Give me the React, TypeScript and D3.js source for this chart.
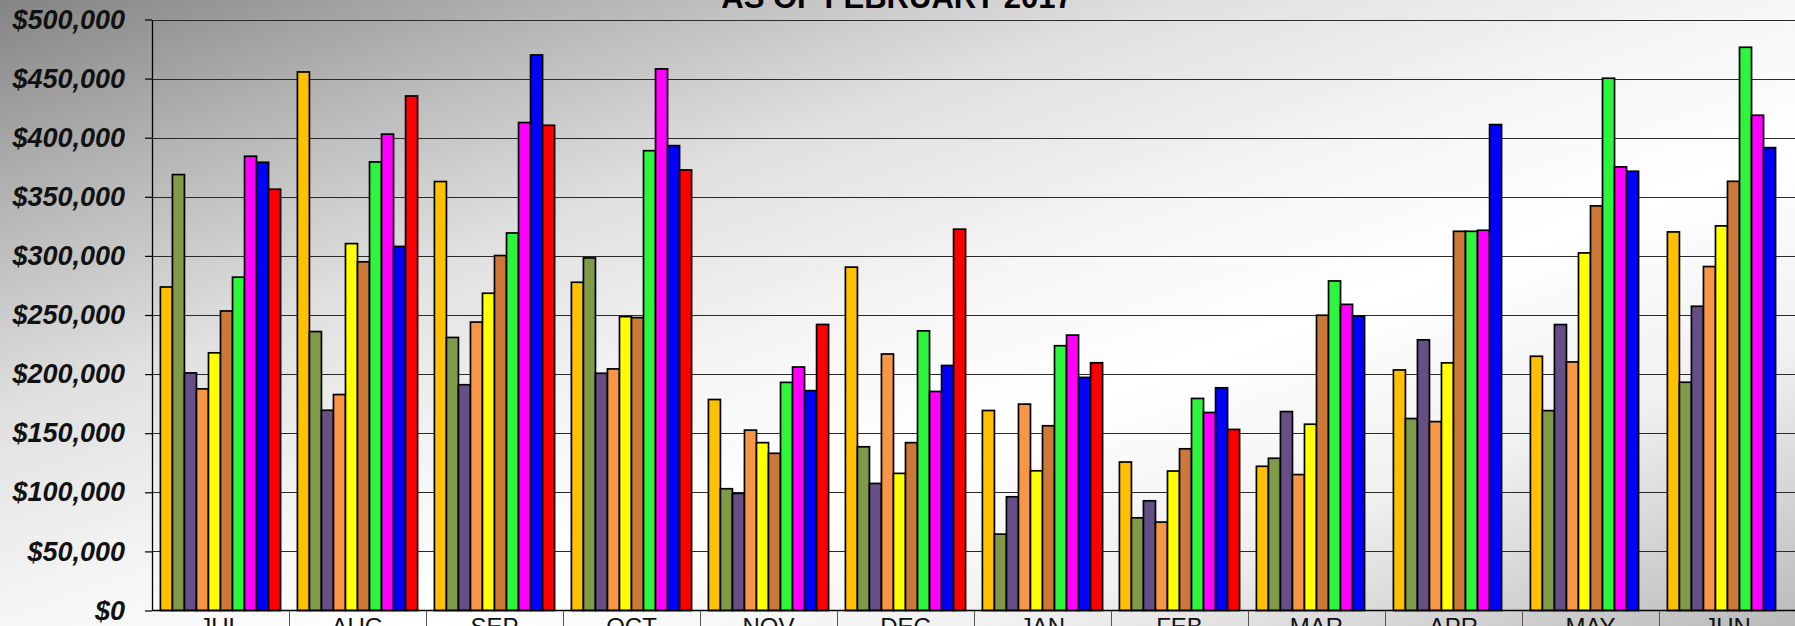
import React, { useEffect, useRef } from "react";
import * as d3 from "d3";

// fiscal year months, JUL -> JUN
const months = ["JUL", "AUG", "SEP", "OCT", "NOV", "DEC", "JAN", "FEB", "MAR", "APR", "MAY", "JUN"];

// one array per fiscal year (oldest first), dollars per month
const fy2008 = [273700, 455600, 362900, 277700, 178500, 290500, 169200, 125600, 122000, 203500, 215100, 320300];
const fy2009 = [368800, 236000, 231000, 298300, 103000, 138500, 64600, 78400, 128800, 162400, 169100, 193100];
const fy2010 = [201000, 169400, 191000, 200700, 99000, 107500, 96200, 92800, 168300, 229000, 241900, 257400];
const fy2011 = [187500, 182700, 244000, 204400, 152600, 217000, 174600, 74800, 115000, 159800, 210300, 291000];
const fy2012 = [218000, 310400, 268400, 248600, 142000, 116000, 118200, 118000, 157600, 209500, 302500, 325400];
const fy2013 = [253400, 295000, 300300, 247800, 133000, 142000, 156300, 136800, 249800, 320800, 342300, 363100];
const fy2014 = [282000, 379500, 319400, 389000, 193000, 236600, 224000, 179400, 278800, 320800, 450300, 476500];
const fy2015 = [384300, 403000, 412800, 458200, 206000, 185300, 233000, 167500, 259000, 321700, 375300, 419000];
const fy2016 = [379200, 308000, 470000, 393300, 186000, 207300, 197200, 188400, 249200, 411100, 371600, 391600];
const fy2017 = [356400, 435300, 410500, 372700, 242000, 322600, 209600, 153200, null, null, null, null];

const seriesNames = ["FY2008", "FY2009", "FY2010", "FY2011", "FY2012", "FY2013", "FY2014", "FY2015", "FY2016", "FY2017"];
const seriesValues = [fy2008, fy2009, fy2010, fy2011, fy2012, fy2013, fy2014, fy2015, fy2016, fy2017];
const seriesColors = ["#FFC000", "#7F9A48", "#664F87", "#F79646", "#FFFF00", "#CC7838", "#2CF53C", "#FF00FF", "#0000FF", "#FF0000"];

const yTicks = [0, 50000, 100000, 150000, 200000, 250000, 300000, 350000, 400000, 450000, 500000];

const title = "AS OF FEBRUARY 2017";

const width = 1795;
const height = 626;

export default function App() {
  const ref = useRef<SVGSVGElement>(null);

  useEffect(() => {
    const svg = d3.select(ref.current);
    svg.selectAll("*").remove();

    const left = 152;
    const right = 1796;
    const top = 19.5;
    const bottom = 610.5;

    // background gradient
    const grad = svg.append("defs").append("linearGradient")
      .attr("id", "bg")
      .attr("x1", 0).attr("y1", 0).attr("x2", 1).attr("y2", 1);
    const stops: [number, string][] = [
      [0, "#848484"], [0.17, "#b6b6b6"], [0.33, "#e0e0e0"], [0.5, "#f6f6f6"],
      [0.62, "#ffffff"], [0.78, "#f0f0f0"], [1, "#bababa"]
    ];
    stops.forEach(s => {
      grad.append("stop").attr("offset", s[0]).attr("stop-color", s[1]);
    });
    svg.append("rect").attr("width", width).attr("height", height).attr("fill", "url(#bg)");

    const x0 = d3.scaleBand<string>().domain(months).range([left, right]).padding(0);
    const x1 = d3.scaleBand<string>().domain(seriesNames).range([0, x0.bandwidth()])
      .paddingInner(0).paddingOuter(0.7);
    const y = d3.scaleLinear().domain([0, 500000]).range([bottom, top]);

    // gridlines
    svg.append("g")
      .selectAll("line")
      .data(yTicks.filter(d => d > 0))
      .join("line")
      .attr("x1", left).attr("x2", width)
      .attr("y1", d => Math.round(y(d)) + 0.5).attr("y2", d => Math.round(y(d)) + 0.5)
      .attr("stroke", "#2a2a2a")
      .attr("stroke-width", 1.2);

    // bars
    const groups = svg.append("g")
      .selectAll("g")
      .data(months)
      .join("g")
      .attr("transform", d => "translate(" + x0(d) + ",0)");

    groups.selectAll("rect")
      .data((m, i) => seriesNames.map((s, k) => ({ s, k, v: seriesValues[k][i] })).filter(d => d.v != null))
      .join("rect")
      .attr("x", d => x1(d.s) as number)
      .attr("y", d => y(d.v as number))
      .attr("width", x1.bandwidth())
      .attr("height", d => bottom - y(d.v as number))
      .attr("fill", d => seriesColors[d.k])
      .attr("stroke", "#000")
      .attr("stroke-width", 1.7);

    // y axis
    const yAxis = d3.axisLeft(y)
      .tickValues(yTicks)
      .tickFormat(d => "$" + d3.format(",")(d as number))
      .tickSizeInner(7)
      .tickSizeOuter(0)
      .tickPadding(20);
    const ya = svg.append("g")
      .attr("transform", "translate(" + left + ",0)")
      .call(yAxis);
    ya.select(".domain").attr("stroke", "#000").attr("stroke-width", 1.3);
    ya.selectAll(".tick line").attr("stroke", "#000").attr("stroke-width", 1.2);
    ya.selectAll(".tick text")
      .attr("fill", "#111")
      .style("font-family", "'Liberation Sans', Arial, sans-serif")
      .style("font-size", "27px")
      .style("font-weight", "bold")
      .style("font-style", "italic");

    // x axis line and category separators
    svg.append("line")
      .attr("x1", left).attr("x2", width)
      .attr("y1", bottom).attr("y2", bottom)
      .attr("stroke", "#000").attr("stroke-width", 1.3);

    svg.append("g")
      .selectAll("line")
      .data(months.slice(1))
      .join("line")
      .attr("x1", d => Math.round(x0(d) as number) + 0.5)
      .attr("x2", d => Math.round(x0(d) as number) + 0.5)
      .attr("y1", bottom).attr("y2", height)
      .attr("stroke", "#555").attr("stroke-width", 1);

    svg.append("g")
      .selectAll("text")
      .data(months)
      .join("text")
      .attr("x", d => (x0(d) as number) + x0.bandwidth() / 2)
      .attr("y", 635)
      .attr("text-anchor", "middle")
      .attr("fill", "#111")
      .style("font-family", "'Liberation Sans', Arial, sans-serif")
      .style("font-size", "24px")
      .text(d => d);

    // title, clipped by the top of the picture
    svg.append("text")
      .attr("x", 897)
      .attr("y", 8)
      .attr("text-anchor", "middle")
      .attr("fill", "#000")
      .style("font-family", "'Liberation Sans', Arial, sans-serif")
      .style("font-size", "31px")
      .style("font-weight", "bold")
      .text(title);
  }, []);

  return (
    <svg
      ref={ref}
      width={width}
      height={height}
      style={{ position: "absolute", left: 0, top: 0, display: "block" }}
    />
  );
}
